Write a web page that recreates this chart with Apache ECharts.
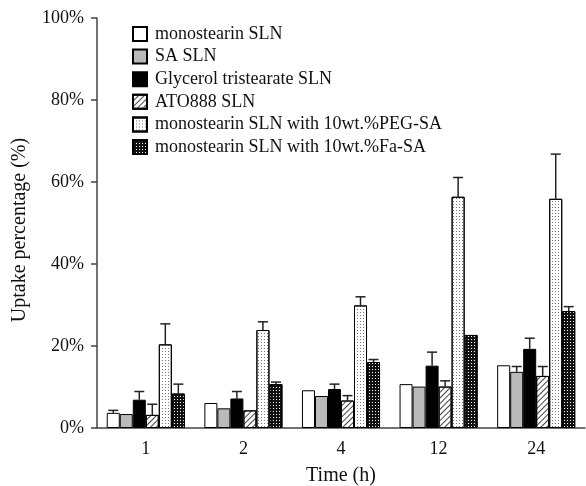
<!DOCTYPE html>
<html>
<head>
<meta charset="utf-8">
<script src="https://cdn.jsdelivr.net/npm/echarts@6/dist/echarts.min.js"></script>
<style>
  html, body { margin: 0; padding: 0; background: #fff; }
</style>
</head>
<body>
<div id="myChart" style="width:586px;height:486px;"></div>
<script>
  // time points (h)
  const times = ['1', '2', '4', '12', '24'];
  const seriesNames = [
    'monostearin SLN',
    'SA SLN',
    'Glycerol tristearate SLN',
    'ATO888 SLN',
    'monostearin SLN with 10wt.%PEG-SA',
    'monostearin SLN with 10wt.%Fa-SA'
  ];
  // uptake percentage (%)
  const monostearin = [3.7, 6.1, 9.2, 10.7, 15.3];
  const saSln = [3.4, 4.8, 7.8, 10.1, 13.7];
  const glycerol = [6.9, 7.2, 9.5, 15.2, 19.3];
  const ato888 = [3.2, 4.3, 6.7, 10.1, 12.7];
  const pegSa = [20.4, 23.9, 29.9, 56.4, 55.9];
  const faSa = [8.4, 10.7, 16.1, 22.7, 28.5];
  // upper error (%), 0 = no bar drawn
  const monostearinErr = [0.6, 0, 0, 0, 0];
  const saSlnErr = [0, 0, 0, 0, 1.3];
  const glycerolErr = [2.0, 1.7, 1.2, 3.3, 2.6];
  const ato888Err = [2.6, 0, 1.2, 1.4, 2.3];
  const pegSaErr = [5.0, 2.0, 2.1, 4.7, 10.9];
  const faSaErr = [2.3, 0.5, 0.6, 0, 1.1];

  const values = [monostearin, saSln, glycerol, ato888, pegSa, faSa];
  const errors = [monostearinErr, saSlnErr, glycerolErr, ato888Err, pegSaErr, faSaErr];

  const font = 'Liberation Serif';
  const nBars = 6;
  const catGap = 0.2;

  const styles = [
    { color: '#fff' },
    { color: '#bababa' },
    { color: '#000' },
    { color: '#fff', decal: { color: '#444', dashArrayX: [1, 0], dashArrayY: [1, 2.8], rotation: -Math.PI / 4 } },
    { color: '#fff', decal: { color: '#777', symbol: 'rect', symbolSize: 1, dashArrayX: [1, 2], dashArrayY: [1, 2] } },
    { color: '#111', decal: { color: '#fff', symbol: 'rect', symbolSize: 1, dashArrayX: [1, 2], dashArrayY: [1, 2] } }
  ];

  const series = [];
  for (let i = 0; i < nBars; i++) {
    series.push({
      name: seriesNames[i],
      type: 'bar',
      barGap: 0,
      barCategoryGap: (catGap * 100) + '%',
      itemStyle: Object.assign({ borderColor: '#000', borderWidth: 1 }, styles[i]),
      emphasis: { disabled: true },
      data: values[i]
    });
  }

  // error bars, drawn from bar top upward
  const errData = [];
  for (let i = 0; i < nBars; i++) {
    for (let j = 0; j < times.length; j++) {
      if (errors[i][j] > 0) errData.push([j, values[i][j], values[i][j] + errors[i][j], i]);
    }
  }
  series.push({
    type: 'custom',
    silent: true,
    z: 1,
    renderItem: function (params, api) {
      const band = api.size([1, 0])[0];
      const bw = band * (1 - catGap) / nBars;
      const idx = api.value(3);
      const base = api.coord([api.value(0), api.value(1)]);
      const top = api.coord([api.value(0), api.value(2)]);
      const x = base[0] + (idx - (nBars - 1) / 2) * bw;
      const half = 5;
      const st = { stroke: '#222', lineWidth: 1.5 };
      return {
        type: 'group',
        children: [
          { type: 'line', shape: { x1: x, y1: base[1], x2: x, y2: top[1] }, style: st },
          { type: 'line', shape: { x1: x - half, y1: top[1], x2: x + half, y2: top[1] }, style: st }
        ]
      };
    },
    data: errData
  });

  const chart = echarts.init(document.getElementById('myChart'));
  const option = {
    animation: false,
    textStyle: { fontFamily: font },
    legend: {
      orient: 'vertical',
      left: 127,
      top: 20,
      icon: 'rect',
      itemWidth: 14,
      itemHeight: 14,
      itemGap: 4.6,
      data: seriesNames,
      textStyle: { fontFamily: font, fontSize: 18, color: '#111', padding: [0, 0, 0, 3] }
    },
    grid: { left: 97, right: 1, top: 18, bottom: 58, outerBoundsMode: 'none' },
    xAxis: {
      type: 'category',
      data: times,
      name: 'Time (h)',
      nameLocation: 'middle',
      nameGap: 38,
      nameTextStyle: { fontFamily: font, fontSize: 20, color: '#111' },
      axisLine: { lineStyle: { color: '#444', width: 1.5 } },
      axisTick: { inside: true, length: 8, lineStyle: { color: '#444', width: 1.5 } },
      axisLabel: { fontFamily: font, fontSize: 18, color: '#111', margin: 12 }
    },
    yAxis: {
      type: 'value',
      min: 0,
      max: 100,
      interval: 20,
      name: 'Uptake percentage (%)',
      nameLocation: 'middle',
      nameGap: 67,
      nameTextStyle: { fontFamily: font, fontSize: 20, color: '#111', padding: [0, 14, 0, 0] },
      splitLine: { show: false },
      axisLine: { show: true, lineStyle: { color: '#444', width: 1.5 } },
      axisTick: { show: true, length: 6, lineStyle: { color: '#444', width: 1.5 } },
      axisLabel: { fontFamily: font, fontSize: 18, color: '#111', margin: 13, formatter: '{value}%' }
    },
    series: series
  };
  chart.setOption(option);
</script>
</body>
</html>
